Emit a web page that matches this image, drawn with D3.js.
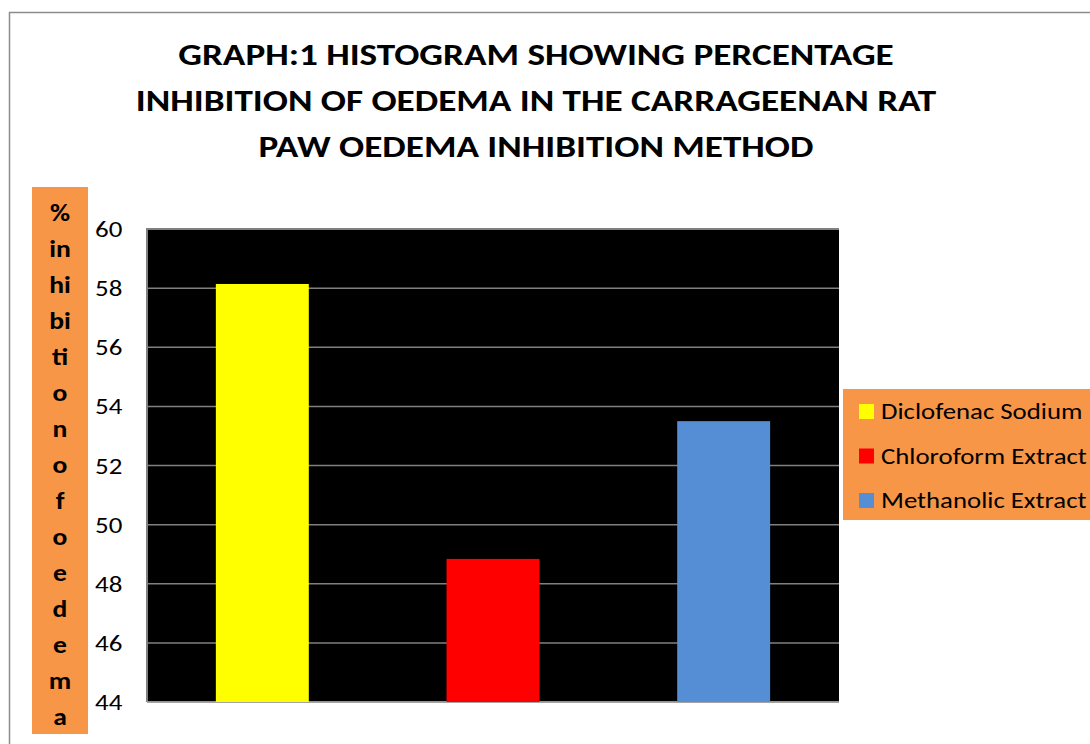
<!DOCTYPE html>
<html>
<head>
<meta charset="utf-8">
<script src="https://cdn.jsdelivr.net/npm/d3@7"></script>
<style>
  html, body { margin: 0; padding: 0; background: #fff; }
  svg { display: block; }
</style>
</head>
<body>
<svg id="chart" width="1090" height="744"></svg>
<script>
// Percentage inhibition of paw oedema per treatment
const categories = ["Diclofenac Sodium", "Chloroform Extract", "Methanolic Extract"];
const values = [58.14, 48.84, 53.5];
const colors = ["#FFFF00", "#FF0000", "#558ED5"];
const yTicks = [44, 46, 48, 50, 52, 54, 56, 58, 60];
const titleLines = [
  "GRAPH:1 HISTOGRAM SHOWING PERCENTAGE",
  "INHIBITION OF OEDEMA IN THE CARRAGEENAN RAT",
  "PAW OEDEMA INHIBITION METHOD"
];
const yLabelChunks = ["%", "in", "hi", "bi", "ti", "o", "n", "o", "f", "o", "e", "d", "e", "m", "a"];

const FONT = "Carlito, Calibri, 'Open Sans', 'Liberation Sans', sans-serif";
const svg = d3.select("#chart");

// text in this chart is set slightly wide; place via translate + horizontal scale
function placeWide(sel, xf, yf, sx) {
  sel.attr("x", 0).attr("y", 0)
     .attr("transform", (d, i) => `translate(${xf(d, i)},${yf(d, i)}) scale(${sx},1)`);
}

// outer chart frame
svg.append("path")
  .attr("d", "M9.5,744 V12.5 H1090")
  .attr("fill", "none").attr("stroke", "#8c8c8c").attr("stroke-width", 1.5);

// title
const title = svg.append("g").selectAll("text").data(titleLines).join("text")
  .attr("text-anchor", "middle")
  .attr("font-family", FONT).attr("font-weight", "bold").attr("font-size", 31)
  .attr("fill", "#000")
  .text(d => d);
placeWide(title, () => 536, (d, i) => 65 + i * 46, 1.2);

// plot area
const plot = { left: 147, right: 839, top: 229, bottom: 702 };

const x = d3.scaleBand()
  .domain(categories)
  .range([plot.left, plot.right])
  .paddingInner(0.597)
  .paddingOuter(0.2985);

const y = d3.scaleLinear()
  .domain([44, 60])
  .range([plot.bottom, plot.top]);

svg.append("rect")
  .attr("x", plot.left).attr("y", plot.top)
  .attr("width", plot.right - plot.left).attr("height", plot.bottom - plot.top)
  .attr("fill", "#000");

// gridlines
svg.append("g").selectAll("line").data(yTicks).join("line")
  .attr("x1", plot.left).attr("x2", plot.right)
  .attr("y1", d => y(d)).attr("y2", d => y(d))
  .attr("stroke", "#808080").attr("stroke-width", 1.5);

// plot border (left + top + bottom)
svg.append("path")
  .attr("d", `M${plot.left},${plot.bottom} V${plot.top} H${plot.right}`)
  .attr("fill", "none").attr("stroke", "#808080").attr("stroke-width", 2);
svg.append("line")
  .attr("x1", plot.left).attr("x2", plot.right)
  .attr("y1", plot.bottom).attr("y2", plot.bottom)
  .attr("stroke", "#a6a6a6").attr("stroke-width", 1.5);

// bars
svg.append("g").selectAll("rect").data(categories).join("rect")
  .attr("x", d => x(d))
  .attr("width", x.bandwidth())
  .attr("y", (d, i) => y(values[i]))
  .attr("height", (d, i) => y(44) - y(values[i]))
  .attr("fill", (d, i) => colors[i]);

// y axis labels
const yAxis = d3.axisLeft(y).tickValues(yTicks).tickSize(0).tickPadding(0).tickFormat(d3.format("d"));
const yg = svg.append("g").call(yAxis);
yg.select(".domain").remove();
yg.selectAll(".tick").attr("transform", null);
const tickText = yg.selectAll(".tick text")
  .attr("text-anchor", "start")
  .attr("dy", null)
  .attr("font-family", FONT).attr("font-size", 23).attr("fill", "#000");
placeWide(tickText, () => 95, d => y(d) + 8, 1.17);

// y axis title box
svg.append("rect")
  .attr("x", 32).attr("y", 187).attr("width", 56).attr("height", 547)
  .attr("fill", "#F79646");
const yLab = svg.append("g").selectAll("text").data(yLabelChunks).join("text")
  .attr("text-anchor", "middle")
  .attr("font-family", FONT).attr("font-weight", "bold").attr("font-size", 24)
  .attr("fill", "#000")
  .text(d => d);
placeWide(yLab, () => 60, (d, i) => 221 + i * 36, 1.15);

// legend
const lg = svg.append("g");
lg.append("rect")
  .attr("x", 843).attr("y", 389).attr("width", 247).attr("height", 131)
  .attr("fill", "#F79646");
const items = lg.selectAll("g").data(categories).join("g")
  .attr("transform", (d, i) => `translate(859,${411.5 + i * 44.5})`);
items.append("rect")
  .attr("x", 0).attr("y", -7.5).attr("width", 15).attr("height", 15)
  .attr("fill", (d, i) => colors[i]);
const legText = items.append("text")
  .attr("font-family", FONT).attr("font-size", 23).attr("fill", "#000")
  .text(d => d);
placeWide(legText, () => 22, () => 7.5, 1.165);
</script>
</body>
</html>
